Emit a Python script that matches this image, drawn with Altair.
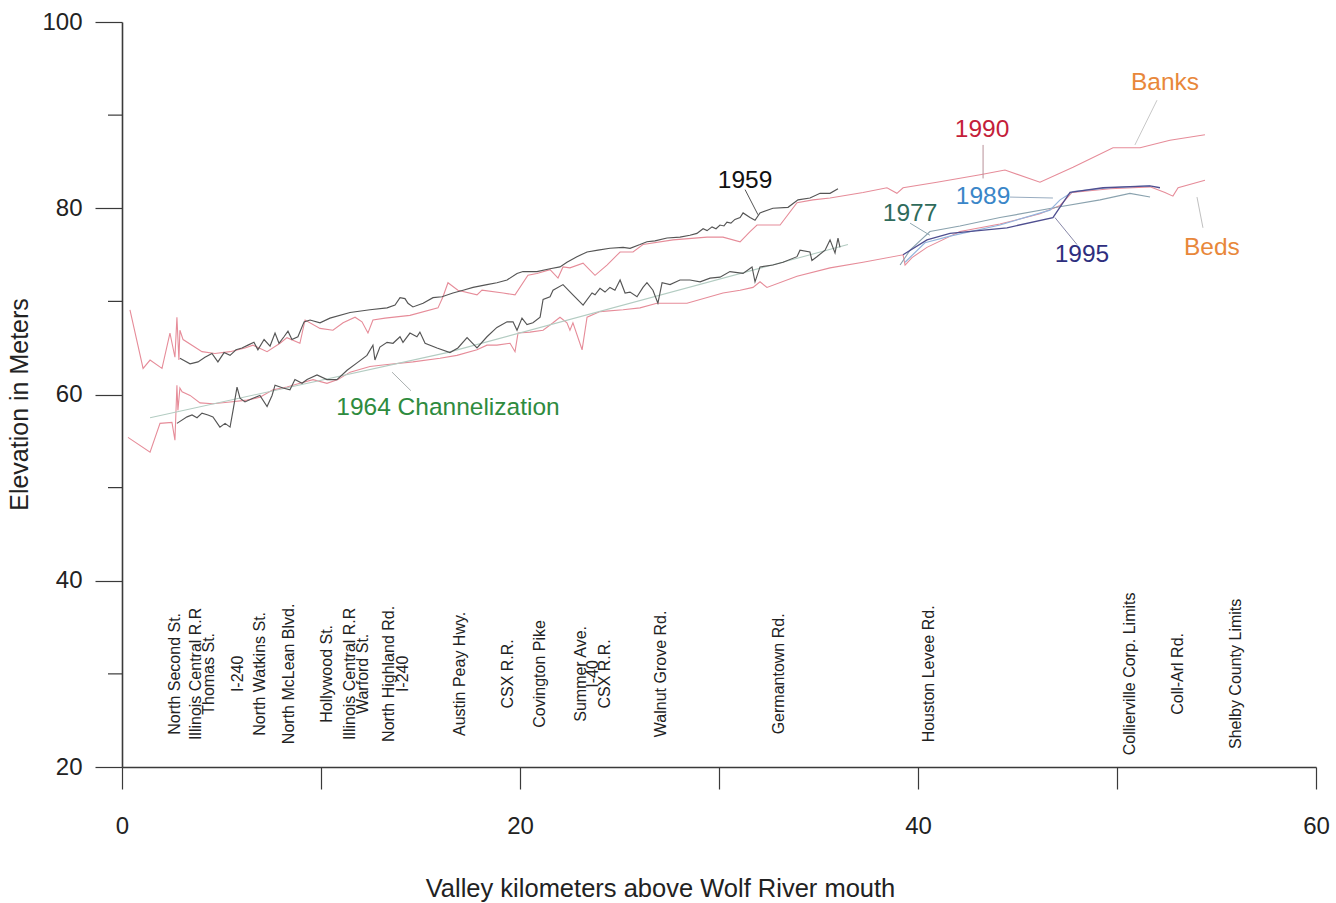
import altair as alt
import pandas as pd

FONT = "Liberation Sans"

# ---------------- data (km above mouth, elevation in m) ----------------
banks_1959_km = [2.91, 3.42, 3.82, 4.17, 4.52, 4.82, 5.13, 5.43, 5.73, 6.03, 6.33, 6.63, 6.83, 7.14, 7.44,
                 7.69, 7.89, 8.14, 8.34, 8.54, 8.84, 9.15, 9.45, 9.95, 10.45, 11.46, 12.46, 13.32, 13.72, 13.97,
                 14.22, 14.37, 14.62, 15.13, 15.63, 16.08, 16.63, 17.14, 17.64, 18.34, 18.84, 19.35, 19.85, 20.15, 20.85,
                 21.51, 22.01, 22.36, 22.86, 23.37, 23.92, 24.52, 25.18, 25.53, 26.03, 26.38, 26.78, 27.39, 28.04, 28.54,
                 28.89, 29.20, 29.40, 29.65, 29.85, 30.05, 30.25, 30.40, 30.60, 30.80, 31.06, 31.21, 31.56, 31.81, 32.06,
                 32.71, 33.47, 33.97, 34.57, 35.08, 35.58, 35.98]
banks_1959_m = [63.9, 63.3, 63.5, 64.0, 64.4, 63.5, 64.5, 64.2, 64.8, 65.0, 65.3, 65.6, 64.8, 65.9, 65.2,
                66.6, 65.5, 66.2, 66.8, 65.9, 66.2, 67.8, 68.0, 67.7, 68.2, 68.8, 69.1, 69.3, 69.6, 70.4,
                70.3, 69.8, 69.4, 69.8, 70.4, 70.5, 70.9, 71.2, 71.5, 71.8, 72.0, 72.3, 73.0, 73.2, 73.2,
                73.5, 73.7, 74.2, 74.8, 75.3, 75.5, 75.7, 75.8, 75.7, 76.1, 76.4, 76.5, 76.8, 76.9, 77.1,
                77.3, 77.8, 77.6, 78.0, 77.8, 78.2, 78.1, 78.5, 78.4, 78.8, 79.0, 79.5, 79.0, 78.7, 79.5,
                80.0, 80.1, 80.9, 81.1, 81.6, 81.6, 82.1]

beds_1959_km = [2.76, 3.27, 3.52, 3.77, 4.02, 4.32, 4.57, 4.92, 5.18, 5.43, 5.58, 5.78, 5.93, 6.18, 6.58,
                6.93, 7.29, 7.54, 7.69, 8.09, 8.44, 8.69, 9.05, 9.30, 9.80, 10.30, 10.80, 11.31, 11.81, 12.31,
                12.61, 12.71, 12.96, 13.32, 13.62, 13.97, 14.12, 14.47, 14.82, 14.97, 15.23, 15.83, 16.48, 16.88, 17.34,
                17.84, 18.34, 18.84, 19.35, 19.65, 19.85, 20.10, 20.35, 20.65, 21.01, 21.16, 21.51, 21.66, 22.16, 22.66,
                23.17, 23.62, 23.77, 24.02, 24.27, 24.52, 24.77, 25.03, 25.28, 25.53, 25.88, 26.18, 26.38, 26.68, 26.93,
                27.14, 27.54, 28.04, 28.54, 29.05, 29.55, 30.05, 30.55, 31.21, 31.66, 31.81, 32.06, 32.71, 33.22, 33.92,
                34.07, 34.57, 34.67, 34.92, 35.33, 35.58, 35.83, 35.98, 36.08]
beds_1959_m = [56.9, 57.6, 57.8, 57.5, 58.0, 57.8, 57.6, 56.5, 56.9, 56.5, 58.3, 60.8, 59.6, 59.2, 59.6,
               59.9, 58.7, 59.9, 61.0, 60.7, 60.5, 61.6, 61.2, 61.6, 62.1, 61.6, 61.6, 62.6, 63.4, 64.2,
               65.3, 63.7, 65.1, 65.6, 65.5, 66.2, 65.6, 66.6, 66.2, 66.7, 65.5, 65.0, 64.5, 65.0, 66.1,
               65.0, 66.2, 67.2, 67.8, 67.8, 66.9, 68.2, 67.5, 67.7, 68.3, 70.2, 70.5, 71.2, 71.8, 70.7,
               69.6, 70.9, 70.7, 71.4, 71.0, 71.5, 71.2, 72.3, 70.9, 71.0, 70.5, 71.5, 72.0, 71.2, 69.8,
               72.0, 71.8, 72.3, 72.3, 72.1, 72.5, 72.6, 73.2, 73.0, 73.7, 72.1, 73.7, 73.9, 74.2, 74.8,
               75.5, 75.3, 74.4, 74.8, 75.5, 76.6, 75.2, 76.8, 75.8]

banks_1990_km = [0.40, 1.06, 1.41, 2.01, 2.41, 2.66, 2.76, 2.86, 2.91, 3.07, 4.02, 4.67, 5.43, 6.18, 6.58,
                 7.29, 7.94, 8.29, 8.94, 9.20, 9.95, 10.60, 11.11, 11.71, 12.06, 12.36, 12.61, 13.22, 14.47, 15.88,
                 16.13, 16.38, 16.88, 17.84, 18.09, 19.15, 19.75, 20.40, 20.85, 21.51, 21.91, 22.16, 22.51, 23.17, 23.77,
                 24.37, 25.03, 25.68, 26.18, 27.69, 29.40, 30.20, 31.06, 31.56, 31.91, 33.07, 33.92, 34.72, 35.58, 37.24,
                 38.44, 38.94, 39.25, 40.95, 43.12, 44.37, 46.13, 47.79, 49.80, 51.16, 52.66, 54.42]
banks_1990_m = [69.1, 62.8, 63.7, 62.8, 66.6, 64.0, 68.3, 63.7, 66.9, 65.9, 64.6, 64.4, 64.6, 65.0, 65.3,
                64.6, 65.5, 66.1, 65.5, 68.0, 67.1, 66.9, 67.7, 68.3, 67.8, 66.6, 68.0, 68.2, 68.5, 69.3,
                70.5, 72.0, 71.2, 70.7, 71.2, 70.9, 70.7, 72.8, 73.0, 73.4, 72.5, 73.7, 73.6, 74.1, 72.8,
                73.9, 75.3, 75.3, 76.1, 76.6, 76.9, 76.9, 76.4, 77.5, 78.2, 78.2, 80.6, 80.9, 81.1, 81.7,
                82.2, 81.6, 82.2, 82.8, 83.6, 84.1, 82.8, 84.4, 86.5, 86.5, 87.3, 87.9]

beds_1990_km = [0.30, 1.41, 1.91, 2.51, 2.66, 2.76, 2.81, 2.91, 3.02, 3.42, 3.92, 4.57, 5.43, 6.28, 6.93,
                7.59, 8.29, 8.94, 9.60, 10.30, 10.85, 11.46, 12.46, 13.22, 14.62, 15.98, 16.83, 17.84, 18.34, 18.84,
                19.50, 19.75, 19.90, 20.50, 21.16, 21.66, 22.01, 22.36, 22.51, 22.66, 23.12, 23.37, 24.02, 25.18, 26.03,
                26.88, 28.39, 30.20, 31.06, 31.71, 32.06, 32.41, 33.92, 35.58, 37.24, 39.25, 39.35, 39.70, 40.45, 42.11,
                44.12, 46.13, 47.14, 47.74, 49.65, 51.66, 52.41, 52.81, 53.07, 54.42]
beds_1990_m = [55.4, 53.8, 56.9, 57.0, 55.1, 61.0, 58.3, 60.7, 60.3, 59.9, 59.1, 59.0, 59.2, 59.4, 59.7,
               60.5, 60.8, 61.2, 61.6, 61.2, 61.6, 62.4, 63.0, 63.2, 63.5, 63.9, 64.2, 64.8, 65.3, 65.3,
               65.5, 64.6, 66.6, 66.7, 66.9, 67.7, 68.3, 67.7, 66.9, 67.7, 64.8, 68.3, 68.9, 69.1, 69.3,
               69.8, 69.8, 70.9, 71.2, 71.5, 72.1, 71.5, 72.7, 73.6, 74.2, 75.0, 73.9, 74.7, 75.8, 77.5,
               78.3, 79.4, 80.3, 81.7, 82.1, 82.3, 81.7, 81.3, 82.2, 83.0]

channel_1964_km = [1.41, 16.33, 36.48]
channel_1964_m = [57.5, 64.5, 76.1]

beds_1977_km = [39.10, 39.60, 40.60, 42.11, 44.12, 46.98, 49.15, 50.65, 51.66]
beds_1977_m = [73.9, 75.5, 77.5, 78.1, 79.0, 80.1, 80.9, 81.6, 81.2]

beds_1989_km = [39.35, 40.35, 41.61, 44.12, 46.63, 47.14, 47.79, 49.65, 51.66]
beds_1989_m = [74.2, 76.3, 77.0, 78.2, 79.8, 80.9, 81.8, 82.2, 82.4]

beds_1995_km = [39.25, 40.45, 41.61, 44.47, 46.78, 47.64, 49.30, 51.66, 52.16]
beds_1995_m = [75.0, 76.6, 77.3, 77.9, 79.0, 81.7, 82.2, 82.4, 82.2]

# annotation labels
label_text = ["1959", "1964 Channelization", "1990", "Banks", "Beds", "1977", "1989", "1995"]
label_km = [31.31, 16.38, 43.22, 52.41, 54.77, 39.60, 43.27, 48.24]
label_m = [82.9, 58.5, 88.4, 93.4, 75.7, 79.4, 81.2, 75.0]
label_color = ["#111111", "#2e8b3e", "#c41e3a", "#e8873a", "#e8873a", "#2f6b5b", "#3a86c8", "#2e2e7e"]

# leader lines (start / end) for each label
leader_km0 = [31.31, 13.57, 43.27, 52.01, 54.02, 39.60, 44.62, 46.88]
leader_m0 = [82.0, 62.4, 86.8, 91.6, 81.2, 78.4, 81.2, 79.0]
leader_km1 = [31.96, 14.52, 43.27, 50.90, 54.32, 40.60, 46.78, 47.99]
leader_m1 = [79.3, 60.4, 83.2, 86.8, 77.9, 77.1, 81.1, 76.1]
leader_color = ["#555555", "#aab0b0", "#b89098", "#c8c8c8", "#c0c0c0", "#90a8b0", "#98acc0", "#8888a8"]

# road / landmark names along the valley
road_names = ["North Second St.", "Illinois Central R.R", "Thomas St.", "I-240", "North Watkins St.",
              "North McLean Blvd.", "Hollywood St.", "Illinois Central R.R", "Warford St.",
              "North Highland Rd.", "I-240", "Austin Peay Hwy.", "CSX R.R.", "Covington Pike",
              "Summer Ave.", "I-40", "CSX R.R.", "Walnut Grove Rd.", "Germantown Rd.",
              "Houston Levee Rd.", "Collierville Corp. Limits", "Coll-Arl Rd.", "Shelby County Limits"]
road_km = [2.66, 3.72, 4.35, 5.83, 6.93, 8.39, 10.30, 11.46, 12.10, 13.42, 14.12, 16.98, 19.40, 21.01,
           23.07, 23.66, 24.25, 27.09, 33.02, 40.55, 50.65, 53.07, 55.98]
road_label_elev = 30

minor_ticks = [30, 50, 70, 90]

# ---------------- chart ----------------
AX = "#3a3a3a"
x_axis = alt.Axis(values=list(range(0, 61, 10)),
                  labelExpr="datum.value % 20 === 0 ? datum.label : ''",
                  tickSize=22, labelPadding=25, labelFontSize=24, labelFont=FONT, labelColor="#222222",
                  labelFlush=False, labelOverlap=False,
                  domainColor=AX, domainWidth=1.6, tickColor=AX, tickWidth=1.2,
                  grid=False, title="Valley kilometers above Wolf River mouth",
                  titleFont=FONT, titleFontSize=25.5, titleFontWeight="normal", titleColor="#222222",
                  titleX=538, titleY=121, titleAlign="center", titleBaseline="middle")
y_axis = alt.Axis(values=[20, 40, 60, 80, 100],
                  tickSize=27, labelPadding=13, labelFontSize=24, labelFont=FONT, labelColor="#222222",
                  labelFlush=False, labelOverlap=False,
                  domainColor=AX, domainWidth=1.6, tickColor=AX, tickWidth=1.2,
                  grid=False, title="Elevation in Meters",
                  titleFont=FONT, titleFontSize=25, titleFontWeight="normal", titleColor="#222222",
                  titleX=-103, titleY=382, titleAngle=270, titleAlign="center", titleBaseline="middle")

X = alt.X("km:Q", scale=alt.Scale(domain=[0, 60], nice=False, zero=False), axis=x_axis)
Y = alt.Y("elev:Q", scale=alt.Scale(domain=[20, 100], nice=False, zero=False), axis=y_axis)

line_specs = [
    (banks_1990_km, banks_1990_m, "#e68c99", 1.1),
    (beds_1990_km, beds_1990_m, "#e68c99", 1.1),
    (channel_1964_km, channel_1964_m, "#b3ccc2", 1.1),
    (banks_1959_km, banks_1959_m, "#555555", 1.15),
    (beds_1959_km, beds_1959_m, "#555555", 1.15),
    (beds_1977_km, beds_1977_m, "#8aa2ae", 1.1),
    (beds_1989_km, beds_1989_m, "#94b4dc", 1.2),
    (beds_1995_km, beds_1995_m, "#4f4f90", 1.3),
]

layers = []
for km, m, color, width in line_specs:
    df = pd.DataFrame({"km": km, "elev": m, "i": list(range(len(km)))})
    layers.append(alt.Chart(df).mark_line(color=color, strokeWidth=width).encode(x=X, y=Y, order="i:Q"))

leader_rows = []
for j in range(len(leader_km0)):
    leader_rows.append({"km": leader_km0[j], "elev": leader_m0[j], "id": j, "i": 0, "c": leader_color[j]})
    leader_rows.append({"km": leader_km1[j], "elev": leader_m1[j], "id": j, "i": 1, "c": leader_color[j]})
leaders = alt.Chart(pd.DataFrame(leader_rows)).mark_line(strokeWidth=1).encode(
    x=X, y=Y, detail="id:N", order="i:Q", color=alt.Color("c:N", scale=None))

minor = alt.Chart(pd.DataFrame({"elev": minor_ticks})).mark_rule(color=AX, strokeWidth=1.2).encode(
    y=Y, x=alt.value(-14), x2=alt.value(0))

labels = alt.Chart(pd.DataFrame({"km": label_km, "elev": label_m, "t": label_text, "c": label_color})).mark_text(
    font=FONT, fontSize=24.5, align="center", baseline="middle").encode(
    x=X, y=Y, text="t:N", color=alt.Color("c:N", scale=None))

roads = alt.Chart(pd.DataFrame({"km": road_km, "elev": [road_label_elev] * len(road_km), "t": road_names})).mark_text(
    font=FONT, fontSize=16, angle=270, align="center", baseline="middle", color="#222222").encode(
    x=X, y=Y, text="t:N")

chart = alt.layer(*layers, leaders, minor, labels, roads).properties(
    width=1194, height=745,
    autosize=alt.AutoSizeParams(type="none"),
    padding={"left": 122, "top": 22, "right": 20, "bottom": 136},
    background="white",
).configure_view(stroke=None)

chart.save("out.html", embed_options={"renderer": "svg", "actions": False})
